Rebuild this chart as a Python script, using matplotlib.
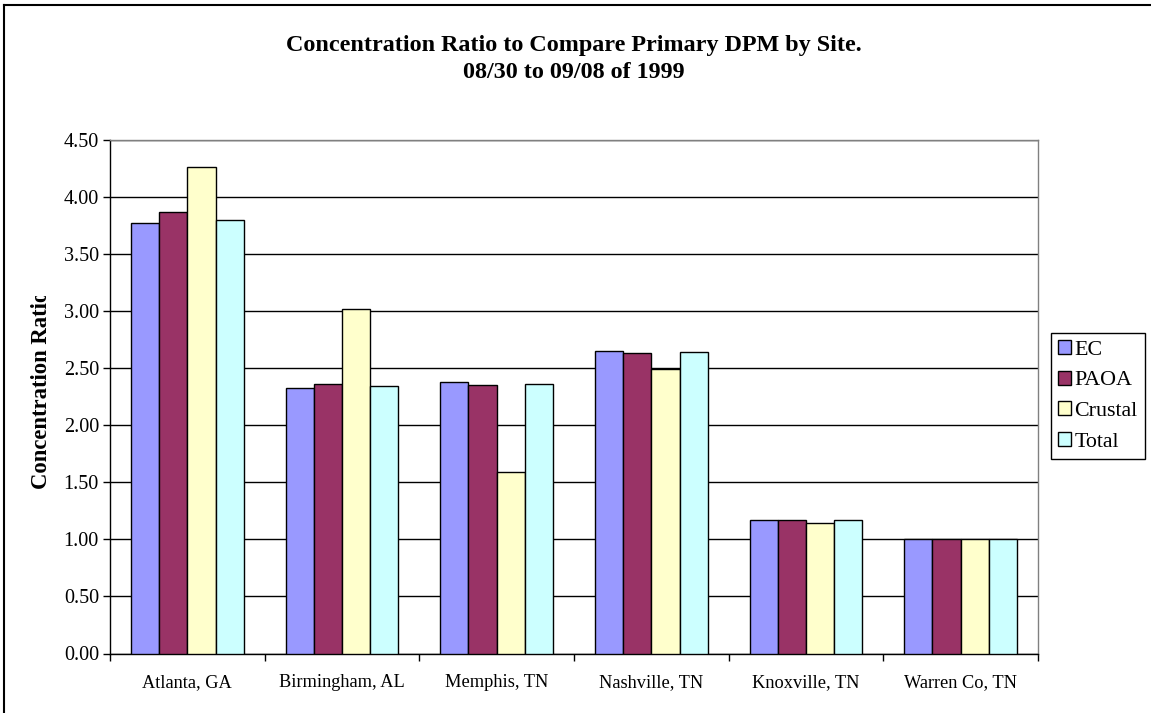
import matplotlib
matplotlib.use("Agg")
import matplotlib.pyplot as plt
import numpy as np
from matplotlib.lines import Line2D
from matplotlib.patches import Rectangle

sites = ["Atlanta, GA", "Birmingham, AL", "Memphis, TN", "Nashville, TN", "Knoxville, TN", "Warren Co, TN"]
ec = [3.77, 2.33, 2.38, 2.65, 1.17, 1.00]
paoa = [3.87, 2.36, 2.35, 2.63, 1.17, 1.00]
crustal = [4.26, 3.02, 1.59, 2.49, 1.14, 1.00]
total = [3.80, 2.34, 2.36, 2.64, 1.17, 1.00]
series_names = ["EC", "PAOA", "Crustal", "Total"]
yticks = [0.0, 0.5, 1.0, 1.5, 2.0, 2.5, 3.0, 3.5, 4.0, 4.5]

colors = ["#9999FF", "#993366", "#FFFFCC", "#CCFFFF"]
W, H = 1151, 713
plt.rcParams['font.family'] = ['Liberation Serif', 'DejaVu Serif']

fig = plt.figure(figsize=(W / 100, H / 100), dpi=100)
fig.patch.set_facecolor("white")

def fx(px):
    return px / W

def fy(py):
    return 1 - py / H

left, right, top, bottom = 110, 1038, 140, 653.5
ax = fig.add_axes([fx(left), fy(bottom), fx(right) - fx(left), fy(top) - fy(bottom)])

x = np.arange(len(sites))
bw = 0.73 / 4
data = [ec, paoa, crustal, total]
handles = []
for i, (vals, c, name) in enumerate(zip(data, colors, series_names)):
    b = ax.bar(x - 0.365 + bw * (i + 0.5), vals, width=bw, color=c, edgecolor="black",
               linewidth=1.0, label=name, zorder=3)
    handles.append(b)

ax.set_xlim(-0.5, len(sites) - 0.5)
ax.set_ylim(0, 4.5)
ax.set_yticks(yticks)
ax.set_yticklabels([f"{v:.2f}" for v in yticks], fontsize=14.5)
ax.yaxis.grid(True, color="black", linewidth=1.0, zorder=0)
ax.set_axisbelow(True)
ax.tick_params(axis="y", direction="out", length=5, width=1, pad=3)
ax.set_xticks(x)
ax.set_xticklabels(sites, fontsize=13.2)
ax.tick_params(axis="x", which="major", length=0, pad=15)
ax.set_xticks(np.arange(-0.5, len(sites)), minor=True)
ax.tick_params(axis="x", which="minor", direction="out", length=5, width=1)

for s in ["left", "bottom"]:
    ax.spines[s].set_color("black")
    ax.spines[s].set_linewidth(1.0)
for s in ["right", "top"]:
    ax.spines[s].set_color("#808080")
    ax.spines[s].set_linewidth(1.0)

# Titles
fig.text(fx(574), fy(46), "Concentration Ratio to Compare Primary DPM by Site.",
         ha="center", va="center", fontsize=17.4, fontweight="bold")
fig.text(fx(574), fy(73), "08/30 to 09/08 of 1999",
         ha="center", va="center", fontsize=17.4, fontweight="bold")

# Y label (top end hidden like reference)
fig.text(fx(42), fy(390), "Concentration Ratio", rotation=90, ha="center", va="center",
         fontsize=16.3, fontweight="bold")
fig.add_artist(Rectangle((fx(25), fy(296)), fx(58) - fx(25), fy(270) - fy(296),
                         transform=fig.transFigure, facecolor="white", edgecolor="none", zorder=10))

# Legend
leg = fig.legend(handles, series_names, loc="upper left",
                 bbox_to_anchor=(fx(1051), fy(333)), fontsize=15.8,
                 frameon=True, fancybox=False, edgecolor="black", framealpha=1,
                 handlelength=0.6, handleheight=0.6, handletextpad=0.15,
                 labelspacing=0.5, borderpad=0.32, borderaxespad=0)
leg.get_frame().set_linewidth(1.0)

# Outer frame (right and bottom edges cut off)
lw = 1.5
fig.add_artist(Line2D([fx(4), fx(4)], [fy(5), 0], transform=fig.transFigure, color="black", lw=lw))
fig.add_artist(Line2D([fx(4), 1], [fy(5), fy(5)], transform=fig.transFigure, color="black", lw=lw))

fig.savefig("out.png", dpi=100, facecolor="white")
